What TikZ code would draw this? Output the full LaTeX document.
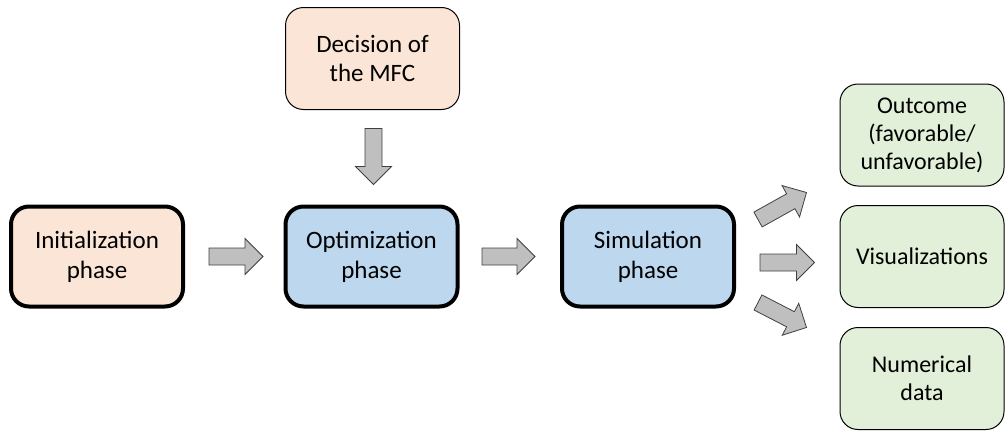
\documentclass[tikz,border=0pt]{standalone}
\usepackage{fontspec}
\setmainfont{Carlito}
\usetikzlibrary{calc}
\definecolor{peach}{HTML}{FBE5D6}
\definecolor{paleblue}{HTML}{BDD7EE}
\definecolor{palegreen}{HTML}{E2F0D9}
\definecolor{arrowfill}{HTML}{BFBFBF}
\definecolor{arrowline}{HTML}{404040}
\tikzset{
  box/.style={rectangle, rounded corners=18pt, align=center, inner sep=0pt},
  thickbox/.style={box, draw=black, line width=4pt, minimum width=172pt, minimum height=100pt,
    font=\fontsize{25}{30}\selectfont},
  thinbox/.style={box, draw=black, line width=1pt, minimum width=174pt, minimum height=102pt,
    font=\fontsize{25}{29}\selectfont},
  sidebox/.style={box, draw=black, line width=1pt, fill=palegreen, minimum width=164pt,
    minimum height=102pt, font=\fontsize{24}{28}\selectfont},
  blockarrow/.style={draw=arrowline, fill=arrowfill, line width=0.8pt, line join=miter}
}
% broad block arrow from #1 to #2: shaft 17pt wide, head 36pt wide and 18pt long
\newcommand\blockarrow[2]{%
  \path[blockarrow] let \p1=(#1), \p2=(#2),
      \n1={atan2(\y2-\y1,\x2-\x1)}, \n2={veclen(\x2-\x1,\y2-\y1)} in
    [shift={(\p1)}, rotate=\n1]
    (0,-8.5) -- ({\n2-18},-8.5) -- ({\n2-18},-18) -- (\n2,0)
    -- ({\n2-18},18) -- ({\n2-18},8.5) -- (0,8.5) -- cycle;%
}
\begin{document}
\begin{tikzpicture}[x=1pt, y=-1pt]
  \useasboundingbox (0,0) rectangle (1006,431);

  % main chain
  \node[thickbox, fill=peach] (init) at (97,256.5) {Initialization\\phase};
  \node[thickbox, fill=paleblue] (opt) at (371.5,256.5) {Optimization\\phase};
  \node[thickbox, fill=paleblue] (sim) at (648,256.5) {Simulation\\phase};
  \node[thinbox, fill=peach] (dec) at (372.5,58.5) {Decision of\\the MFC};

  % results
  \node[sidebox] (out) at (922,135) {Outcome\\(favorable/\\unfavorable)};
  \node[sidebox] (vis) at (922,256.5) {Visualizations};
  \node[sidebox] (num) at (922,378.5) {Numerical\\data};

  % arrow end points
  \coordinate (a1s) at ($(init.east)+(24,0)$);
  \coordinate (a1e) at ($(opt.west)+(-20.5,0)$);
  \coordinate (a2s) at ($(opt.east)+(22.5,0)$);
  \coordinate (a2e) at ($(sim.west)+(-25,0)$);
  \coordinate (a3s) at ($(dec.south)+(1,18.5)$);
  \coordinate (a3e) at ($(a3s |- opt.north)+(0,-20)$);
  \coordinate (b1s) at ($(sim.east)+(22,-37)$);
  \coordinate (b1e) at ($(out.south west)+(-33,6)$);
  \coordinate (b2s) at ($(sim.east)+(24,6)$);
  \coordinate (b2e) at ($(vis.west)+(-25,6)$);
  \coordinate (b3s) at ($(sim.east)+(22,46)$);
  \coordinate (b3e) at ($(num.north west)+(-33,0.5)$);

  % stage to stage
  \blockarrow{a1s}{a1e}
  \blockarrow{a2s}{a2e}
  \blockarrow{a3s}{a3e}

  % fan-out to the results
  \blockarrow{b1s}{b1e}
  \blockarrow{b2s}{b2e}
  \blockarrow{b3s}{b3e}
\end{tikzpicture}
\end{document}
